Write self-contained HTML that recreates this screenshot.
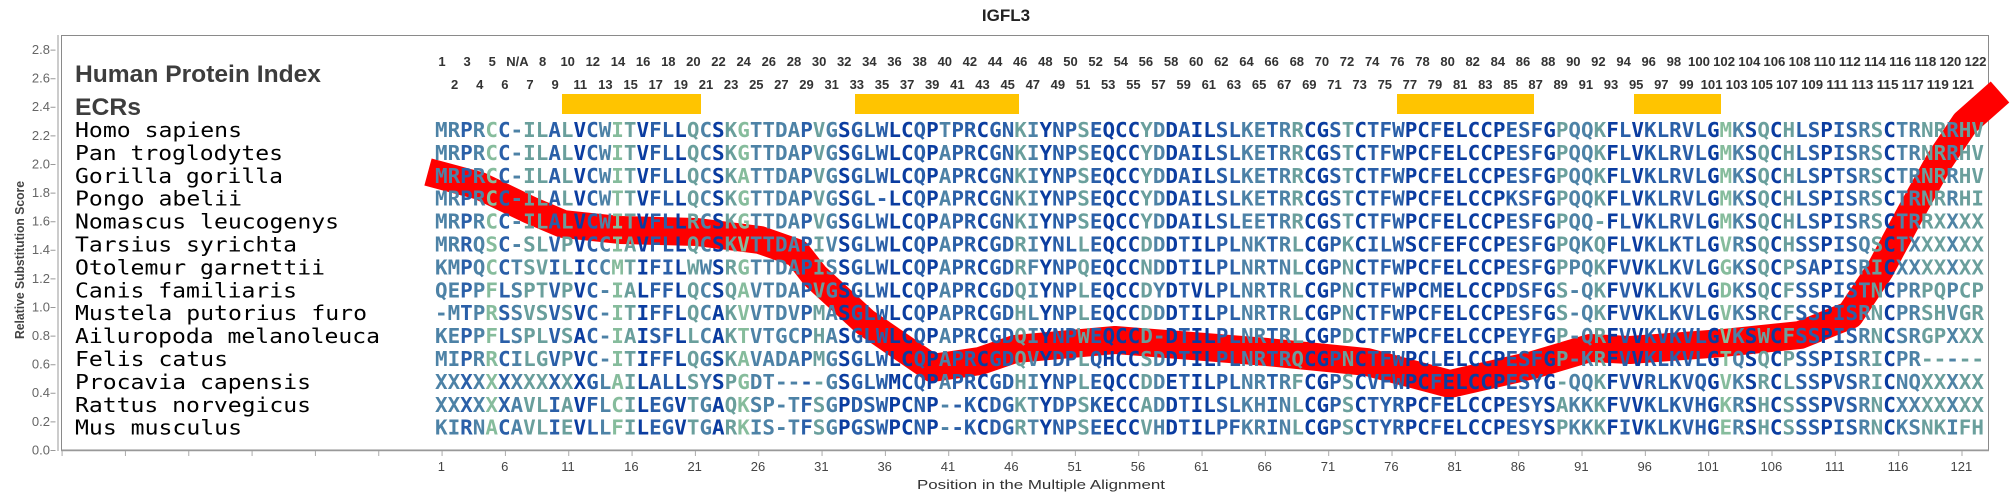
<!DOCTYPE html>
<html><head><meta charset="utf-8"><style>
html,body{margin:0;padding:0;background:#fff;width:2015px;height:500px;overflow:hidden}
svg{display:block}
.a{stop-color:#86bc9c}.b{stop-color:#6a9f9c}.c{stop-color:#4d82a6}.d{stop-color:#2a5fa8}.e{stop-color:#0a3ca0}
.yl{font:13px "Liberation Sans",sans-serif;fill:#666;text-anchor:end}
.xl{font:13px "Liberation Sans",sans-serif;fill:#444;text-anchor:middle}
.hn{font:bold 13px "Liberation Sans",sans-serif;fill:#333;text-anchor:middle}
.sp{font:20px "DejaVu Sans Mono",monospace;fill:#000}
.sq{font:bold 20px "DejaVu Sans Mono",monospace;fill:url(#g)}
.big{font:bold 24px "Liberation Sans",sans-serif;fill:#3d3d3d}
</style></head><body>
<svg width="2015" height="500" viewBox="0 0 2015 500" xmlns="http://www.w3.org/2000/svg">
<defs>
<linearGradient id="g" gradientUnits="userSpaceOnUse" x1="434.7" y1="0" x2="2954.7" y2="0">
<stop offset="0%" class="c"/><stop offset="1%" class="c"/>
<stop offset="1%" class="d"/><stop offset="1.5%" class="d"/>
<stop offset="1.5%" class="c"/><stop offset="2%" class="c"/>
<stop offset="2%" class="a"/><stop offset="2.5%" class="a"/>
<stop offset="2.5%" class="d"/><stop offset="3%" class="d"/>
<stop offset="3%" class="c"/><stop offset="3.5%" class="c"/>
<stop offset="3.5%" class="b"/><stop offset="4.5%" class="b"/>
<stop offset="4.5%" class="d"/><stop offset="5%" class="d"/>
<stop offset="5%" class="b"/><stop offset="5.5%" class="b"/>
<stop offset="5.5%" class="e"/><stop offset="6%" class="e"/>
<stop offset="6%" class="d"/><stop offset="6.5%" class="d"/>
<stop offset="6.5%" class="c"/><stop offset="7%" class="c"/>
<stop offset="7%" class="a"/><stop offset="7.5%" class="a"/>
<stop offset="7.5%" class="b"/><stop offset="8%" class="b"/>
<stop offset="8%" class="e"/><stop offset="8.5%" class="e"/>
<stop offset="8.5%" class="d"/><stop offset="9.5%" class="d"/>
<stop offset="9.5%" class="e"/><stop offset="10%" class="e"/>
<stop offset="10%" class="b"/><stop offset="10.5%" class="b"/>
<stop offset="10.5%" class="c"/><stop offset="11%" class="c"/>
<stop offset="11%" class="e"/><stop offset="11.5%" class="e"/>
<stop offset="11.5%" class="b"/><stop offset="12%" class="b"/>
<stop offset="12%" class="a"/><stop offset="12.5%" class="a"/>
<stop offset="12.5%" class="c"/><stop offset="14.5%" class="c"/>
<stop offset="14.5%" class="d"/><stop offset="15%" class="d"/>
<stop offset="15%" class="b"/><stop offset="15.5%" class="b"/>
<stop offset="15.5%" class="c"/><stop offset="16%" class="c"/>
<stop offset="16%" class="e"/><stop offset="16.5%" class="e"/>
<stop offset="16.5%" class="d"/><stop offset="18%" class="d"/>
<stop offset="18%" class="e"/><stop offset="19%" class="e"/>
<stop offset="19%" class="d"/><stop offset="19.5%" class="d"/>
<stop offset="19.5%" class="e"/><stop offset="20%" class="e"/>
<stop offset="20%" class="c"/><stop offset="20.5%" class="c"/>
<stop offset="20.5%" class="d"/><stop offset="21.5%" class="d"/>
<stop offset="21.5%" class="e"/><stop offset="22%" class="e"/>
<stop offset="22%" class="d"/><stop offset="23%" class="d"/>
<stop offset="23%" class="b"/><stop offset="23.5%" class="b"/>
<stop offset="23.5%" class="c"/><stop offset="24%" class="c"/>
<stop offset="24%" class="e"/><stop offset="24.5%" class="e"/>
<stop offset="24.5%" class="d"/><stop offset="25.5%" class="d"/>
<stop offset="25.5%" class="b"/><stop offset="26%" class="b"/>
<stop offset="26%" class="d"/><stop offset="26.5%" class="d"/>
<stop offset="26.5%" class="e"/><stop offset="28%" class="e"/>
<stop offset="28%" class="b"/><stop offset="28.5%" class="b"/>
<stop offset="28.5%" class="c"/><stop offset="29%" class="c"/>
<stop offset="29%" class="e"/><stop offset="29.5%" class="e"/>
<stop offset="29.5%" class="d"/><stop offset="30%" class="d"/>
<stop offset="30%" class="e"/><stop offset="31%" class="e"/>
<stop offset="31%" class="d"/><stop offset="32%" class="d"/>
<stop offset="32%" class="c"/><stop offset="33%" class="c"/>
<stop offset="33%" class="d"/><stop offset="33.5%" class="d"/>
<stop offset="33.5%" class="c"/><stop offset="34%" class="c"/>
<stop offset="34%" class="b"/><stop offset="34.5%" class="b"/>
<stop offset="34.5%" class="e"/><stop offset="35.5%" class="e"/>
<stop offset="35.5%" class="d"/><stop offset="36%" class="d"/>
<stop offset="36%" class="b"/><stop offset="36.5%" class="b"/>
<stop offset="36.5%" class="e"/><stop offset="37%" class="e"/>
<stop offset="37%" class="d"/><stop offset="38.5%" class="d"/>
<stop offset="38.5%" class="e"/><stop offset="39.5%" class="e"/>
<stop offset="39.5%" class="d"/><stop offset="40%" class="d"/>
<stop offset="40%" class="e"/><stop offset="42.5%" class="e"/>
<stop offset="42.5%" class="d"/><stop offset="44%" class="d"/>
<stop offset="44%" class="e"/><stop offset="44.5%" class="e"/>
<stop offset="44.5%" class="b"/><stop offset="45%" class="b"/>
<stop offset="45%" class="c"/><stop offset="46%" class="c"/>
<stop offset="46%" class="b"/><stop offset="46.5%" class="b"/>
<stop offset="46.5%" class="e"/><stop offset="47%" class="e"/>
<stop offset="47%" class="d"/><stop offset="47.5%" class="d"/>
<stop offset="47.5%" class="e"/><stop offset="48%" class="e"/>
<stop offset="48%" class="d"/><stop offset="50.5%" class="d"/>
<stop offset="50.5%" class="e"/><stop offset="51%" class="e"/>
<stop offset="51%" class="a"/><stop offset="51.5%" class="a"/>
<stop offset="51.5%" class="c"/><stop offset="52%" class="c"/>
<stop offset="52%" class="e"/><stop offset="52.5%" class="e"/>
<stop offset="52.5%" class="b"/><stop offset="53%" class="b"/>
<stop offset="53%" class="e"/><stop offset="53.5%" class="e"/>
<stop offset="53.5%" class="b"/><stop offset="54%" class="b"/>
<stop offset="54%" class="d"/><stop offset="55%" class="d"/>
<stop offset="55%" class="e"/><stop offset="55.5%" class="e"/>
<stop offset="55.5%" class="d"/><stop offset="56.5%" class="d"/>
<stop offset="56.5%" class="c"/><stop offset="57%" class="c"/>
<stop offset="57%" class="b"/><stop offset="57.5%" class="b"/>
<stop offset="57.5%" class="e"/><stop offset="58%" class="e"/>
<stop offset="58%" class="c"/><stop offset="59%" class="c"/>
<stop offset="59%" class="b"/><stop offset="60%" class="b"/>
<stop offset="60%" class="c"/><stop offset="60.5%" class="c"/>
<stop offset="60.5%" class="b"/><stop offset="100%" class="b"/>
</linearGradient>
</defs>

<text x="1006" y="21" text-anchor="middle" style="font:bold 17px 'Liberation Sans',sans-serif;fill:#222">IGFL3</text>

<rect x="61.5" y="35.5" width="1927" height="414.5" fill="none" stroke="#8a8a8a" stroke-width="1"/>
<line x1="58" y1="35" x2="58" y2="451" stroke="#bbb" stroke-width="1.5"/>
<line x1="61" y1="450.5" x2="1989" y2="450.5" stroke="#999" stroke-width="1.5"/>
<line x1="53" y1="49.6" x2="53" y2="451" stroke="#999" stroke-width="5" stroke-dasharray="1 27.6"/>
<line x1="61.6" y1="453.5" x2="1990" y2="453.5" stroke="#aaa" stroke-width="5" stroke-dasharray="1 62.33"/>

<g class="yl">
<text x="50" y="54">2.8</text><text x="50" y="82.6">2.6</text><text x="50" y="111.2">2.4</text><text x="50" y="139.8">2.2</text><text x="50" y="168.4">2.0</text><text x="50" y="197">1.8</text><text x="50" y="225.6">1.6</text><text x="50" y="254.2">1.4</text><text x="50" y="282.8">1.2</text><text x="50" y="311.4">1.0</text><text x="50" y="340">0.8</text><text x="50" y="368.6">0.6</text><text x="50" y="397.2">0.4</text><text x="50" y="425.8">0.2</text><text x="50" y="454.4">0.0</text>
</g>
<text transform="translate(24,260) rotate(-90)" text-anchor="middle" textLength="158" lengthAdjust="spacingAndGlyphs" style="font:bold 13px 'Liberation Sans',sans-serif;fill:#444">Relative Substitution Score</text>

<g class="xl">
<text x="441.4" y="471">1</text><text x="504.7" y="471">6</text><text x="568" y="471">11</text><text x="631.4" y="471">16</text><text x="694.7" y="471">21</text><text x="758" y="471">26</text><text x="821.4" y="471">31</text><text x="884.7" y="471">36</text><text x="948" y="471">41</text><text x="1011.4" y="471">46</text><text x="1074.7" y="471">51</text><text x="1138" y="471">56</text><text x="1201.4" y="471">61</text><text x="1264.7" y="471">66</text><text x="1328" y="471">71</text><text x="1391.4" y="471">76</text><text x="1454.7" y="471">81</text><text x="1518" y="471">86</text><text x="1581.4" y="471">91</text><text x="1644.7" y="471">96</text><text x="1708" y="471">101</text><text x="1771.4" y="471">106</text><text x="1834.7" y="471">111</text><text x="1898" y="471">116</text><text x="1961.4" y="471">121</text>
</g>
<text x="1041" y="489" text-anchor="middle" textLength="248" lengthAdjust="spacingAndGlyphs" style="font:13px 'Liberation Sans',sans-serif;fill:#333">Position in the Multiple Alignment</text>

<text class="big" x="75" y="82" textLength="246" lengthAdjust="spacingAndGlyphs">Human Protein Index</text>
<text class="big" x="75" y="115" textLength="66" lengthAdjust="spacingAndGlyphs">ECRs</text>

<g class="hn">
<text x="442" y="66">1</text><text x="454.6" y="89">2</text><text x="467.1" y="66">3</text><text x="479.7" y="89">4</text><text x="492.3" y="66">5</text><text x="504.9" y="89">6</text><text x="517.4" y="66">N/A</text><text x="530" y="89">7</text><text x="542.6" y="66">8</text><text x="555.1" y="89">9</text>
<text x="567.7" y="66">10</text><text x="580.3" y="89">11</text><text x="592.8" y="66">12</text><text x="605.4" y="89">13</text><text x="618" y="66">14</text><text x="630.6" y="89">15</text><text x="643.1" y="66">16</text><text x="655.7" y="89">17</text><text x="668.3" y="66">18</text><text x="680.8" y="89">19</text>
<text x="693.4" y="66">20</text><text x="706" y="89">21</text><text x="718.5" y="66">22</text><text x="731.1" y="89">23</text><text x="743.7" y="66">24</text><text x="756.3" y="89">25</text><text x="768.8" y="66">26</text><text x="781.4" y="89">27</text><text x="794" y="66">28</text><text x="806.5" y="89">29</text>
<text x="819.1" y="66">30</text><text x="831.7" y="89">31</text><text x="844.2" y="66">32</text><text x="856.8" y="89">33</text><text x="869.4" y="66">34</text><text x="882" y="89">35</text><text x="894.5" y="66">36</text><text x="907.1" y="89">37</text><text x="919.7" y="66">38</text><text x="932.2" y="89">39</text>
<text x="944.8" y="66">40</text><text x="957.4" y="89">41</text><text x="969.9" y="66">42</text><text x="982.5" y="89">43</text><text x="995.1" y="66">44</text><text x="1007.7" y="89">45</text><text x="1020.2" y="66">46</text><text x="1032.8" y="89">47</text><text x="1045.4" y="66">48</text><text x="1057.9" y="89">49</text>
<text x="1070.5" y="66">50</text><text x="1083.1" y="89">51</text><text x="1095.6" y="66">52</text><text x="1108.2" y="89">53</text><text x="1120.8" y="66">54</text><text x="1133.4" y="89">55</text><text x="1145.9" y="66">56</text><text x="1158.5" y="89">57</text><text x="1171.1" y="66">58</text><text x="1183.6" y="89">59</text>
<text x="1196.2" y="66">60</text><text x="1208.8" y="89">61</text><text x="1221.3" y="66">62</text><text x="1233.9" y="89">63</text><text x="1246.5" y="66">64</text><text x="1259.1" y="89">65</text><text x="1271.6" y="66">66</text><text x="1284.2" y="89">67</text><text x="1296.8" y="66">68</text><text x="1309.3" y="89">69</text>
<text x="1321.9" y="66">70</text><text x="1334.5" y="89">71</text><text x="1347" y="66">72</text><text x="1359.6" y="89">73</text><text x="1372.2" y="66">74</text><text x="1384.8" y="89">75</text><text x="1397.3" y="66">76</text><text x="1409.9" y="89">77</text><text x="1422.5" y="66">78</text><text x="1435" y="89">79</text>
<text x="1447.6" y="66">80</text><text x="1460.2" y="89">81</text><text x="1472.7" y="66">82</text><text x="1485.3" y="89">83</text><text x="1497.9" y="66">84</text><text x="1510.5" y="89">85</text><text x="1523" y="66">86</text><text x="1535.6" y="89">87</text><text x="1548.2" y="66">88</text><text x="1560.7" y="89">89</text>
<text x="1573.3" y="66">90</text><text x="1585.9" y="89">91</text><text x="1598.4" y="66">92</text><text x="1611" y="89">93</text><text x="1623.6" y="66">94</text><text x="1636.2" y="89">95</text><text x="1648.7" y="66">96</text><text x="1661.3" y="89">97</text><text x="1673.9" y="66">98</text><text x="1686.4" y="89">99</text>
<text x="1699" y="66" textLength="22" lengthAdjust="spacingAndGlyphs">100</text><text x="1711.6" y="89" textLength="22" lengthAdjust="spacingAndGlyphs">101</text><text x="1724.1" y="66" textLength="22" lengthAdjust="spacingAndGlyphs">102</text><text x="1736.7" y="89" textLength="22" lengthAdjust="spacingAndGlyphs">103</text><text x="1749.3" y="66" textLength="22" lengthAdjust="spacingAndGlyphs">104</text><text x="1761.9" y="89" textLength="22" lengthAdjust="spacingAndGlyphs">105</text><text x="1774.4" y="66" textLength="22" lengthAdjust="spacingAndGlyphs">106</text><text x="1787" y="89" textLength="22" lengthAdjust="spacingAndGlyphs">107</text><text x="1799.6" y="66" textLength="22" lengthAdjust="spacingAndGlyphs">108</text><text x="1812.1" y="89" textLength="22" lengthAdjust="spacingAndGlyphs">109</text>
<text x="1824.7" y="66" textLength="22" lengthAdjust="spacingAndGlyphs">110</text><text x="1837.3" y="89" textLength="22" lengthAdjust="spacingAndGlyphs">111</text><text x="1849.8" y="66" textLength="22" lengthAdjust="spacingAndGlyphs">112</text><text x="1862.4" y="89" textLength="22" lengthAdjust="spacingAndGlyphs">113</text><text x="1875" y="66" textLength="22" lengthAdjust="spacingAndGlyphs">114</text><text x="1887.6" y="89" textLength="22" lengthAdjust="spacingAndGlyphs">115</text><text x="1900.1" y="66" textLength="22" lengthAdjust="spacingAndGlyphs">116</text><text x="1912.7" y="89" textLength="22" lengthAdjust="spacingAndGlyphs">117</text><text x="1925.3" y="66" textLength="22" lengthAdjust="spacingAndGlyphs">118</text><text x="1937.8" y="89" textLength="22" lengthAdjust="spacingAndGlyphs">119</text>
<text x="1950.4" y="66" textLength="22" lengthAdjust="spacingAndGlyphs">120</text><text x="1963" y="89" textLength="22" lengthAdjust="spacingAndGlyphs">121</text><text x="1975.5" y="66" textLength="22" lengthAdjust="spacingAndGlyphs">122</text>
</g>

<g fill="#ffc400">
<rect x="562" y="94" width="139" height="20"/>
<rect x="855" y="94" width="164" height="20"/>
<rect x="1397" y="94" width="137" height="20"/>
<rect x="1634" y="94" width="87" height="20"/>
</g>

<polyline fill="none" stroke="#ff0000" stroke-width="28" stroke-linejoin="round" points="428,172 480,186 530,210 563,224 620,230 697,232 760,240 797,253 815,276 865,322 932,368 980,361 1015,349 1115,340 1205,347 1267,352 1367,362 1450,384 1533,365 1590,348 1630,350 1723,343 1800,335 1850,315 1880,270 1910,214 1940,160 1965,123 2000,92"/>

<g class="sp">
<text x="75" y="137" textLength="167" lengthAdjust="spacingAndGlyphs">Homo sapiens</text>
<text x="75" y="159.9" textLength="208" lengthAdjust="spacingAndGlyphs">Pan troglodytes</text>
<text x="75" y="182.8" textLength="208" lengthAdjust="spacingAndGlyphs">Gorilla gorilla</text>
<text x="75" y="205.7" textLength="167" lengthAdjust="spacingAndGlyphs">Pongo abelii</text>
<text x="75" y="228.6" textLength="264" lengthAdjust="spacingAndGlyphs">Nomascus leucogenys</text>
<text x="75" y="251.5" textLength="222" lengthAdjust="spacingAndGlyphs">Tarsius syrichta</text>
<text x="75" y="274.4" textLength="250" lengthAdjust="spacingAndGlyphs">Otolemur garnettii</text>
<text x="75" y="297.3" textLength="222" lengthAdjust="spacingAndGlyphs">Canis familiaris</text>
<text x="75" y="320.2" textLength="292" lengthAdjust="spacingAndGlyphs">Mustela putorius furo</text>
<text x="75" y="343.1" textLength="305" lengthAdjust="spacingAndGlyphs">Ailuropoda melanoleuca</text>
<text x="75" y="366" textLength="153" lengthAdjust="spacingAndGlyphs">Felis catus</text>
<text x="75" y="388.9" textLength="236" lengthAdjust="spacingAndGlyphs">Procavia capensis</text>
<text x="75" y="411.8" textLength="236" lengthAdjust="spacingAndGlyphs">Rattus norvegicus</text>
<text x="75" y="434.7" textLength="167" lengthAdjust="spacingAndGlyphs">Mus musculus</text>
</g>

<g class="sq">
<text x="435" y="137" textLength="1549" lengthAdjust="spacingAndGlyphs">MRPRCC-ILALVCWITVFLLQCSKGTTDAPVGSGLWLCQPTPRCGNKIYNPSEQCCYDDAILSLKETRRCGSTCTFWPCFELCCPESFGPQQKFLVKLRVLGMKSQCHLSPISRSCTRNRRHV</text>
<text x="435" y="159.9" textLength="1549" lengthAdjust="spacingAndGlyphs">MRPRCC-ILALVCWITVFLLQCSKGTTDAPVGSGLWLCQPAPRCGNKIYNPSEQCCYDDAILSLKETRRCGSTCTFWPCFELCCPESFGPQQKFLVKLRVLGMKSQCHLSPISRSCTRNRRHV</text>
<text x="435" y="182.8" textLength="1549" lengthAdjust="spacingAndGlyphs">MRPRCC-ILALVCWITVFLLQCSKATTDAPVGSGLWLCQPAPRCGNKIYNPSEQCCYDDAILSLKETRRCGSTCTFWPCFELCCPESFGPQQKFLVKLRVLGMKSQCHLSPTSRSCTRNRRHV</text>
<text x="435" y="205.7" textLength="1549" lengthAdjust="spacingAndGlyphs">MRPRCC-ILALVCWTTVFLLQCSKGTTDAPVGSGL-LCQPAPRCGNKIYNPSEQCCYDDAILSLKETRRCGSTCTFWPCFELCCPKSFGPQQKFLVKLRVLGMKSQCHLSPISRSCTRNRRHI</text>
<text x="435" y="228.6" textLength="1549" lengthAdjust="spacingAndGlyphs">MRPRCC-ILALVCWITVFLLRCSKGTTDAPVGSGLWLCQPAPRCGNKIYNPSEQCCYDDAILSLEETRRCGSTCTFWPCFELCCPESFGPQQ-FLVKLRVLGMKSQCHLSPISRSCTRRXXXX</text>
<text x="435" y="251.5" textLength="1549" lengthAdjust="spacingAndGlyphs">MRRQSC-SLVPVCCIAVFLLQCSKVTTDAPIVSGLWLCQPAPRCGDRIYNLLEQCCDDDTILPLNKTRLCGPKCILWSCFEFCCPESFGPQKQFLVKLKTLGVRSQCHSSPISQSCTXXXXXX</text>
<text x="435" y="274.4" textLength="1549" lengthAdjust="spacingAndGlyphs">KMPQCCTSVILICCMTIFILWWSRGTTDAPISSGLWLCQPAPRCGDRFYNPQEQCCNDDTILPLNRTNLCGPNCTFWPCFELCCPESFGPPQKFVVKLKVLGGKSQCPSAPISRICXXXXXXX</text>
<text x="435" y="297.3" textLength="1549" lengthAdjust="spacingAndGlyphs">QEPPFLSPTVPVC-IALFFLQCSQAVTDAPVGSGLWLCQPAPRCGDQIYNPLEQCCDYDTVLPLNRTRLCGPNCTFWPCMELCCPDSFGS-QKFVVKLKVLGDKSQCFSSPISTNCPRPQPCP</text>
<text x="435" y="320.2" textLength="1549" lengthAdjust="spacingAndGlyphs">-MTPRSSVSVSVC-ITIFFLQCAKVVTDVPMASGLWLCQPAPRCGDHLYNPLEQCCDDDTILPLNRTRLCGPNCTFWPCFELCCPESFGS-QKFVVKLKVLGVKSRCFSSPISRNCPRSHVGR</text>
<text x="435" y="343.1" textLength="1549" lengthAdjust="spacingAndGlyphs">KEPPFLSPLVSAC-IAISFLLCAKTVTGCPHASGLWLCQPAPRCGDQIYNPWEQCCD-DTILPLNRTRLCGPDCTFWPCFELCCPEYFGP-QRFVVKVKVLGVKSWCFSSPISRNCSRGPXXX</text>
<text x="435" y="366" textLength="1549" lengthAdjust="spacingAndGlyphs">MIPRRCILGVPVC-ITIFFLQGSKAVADAPMGSGLWLCQPAPRCGDQVYDPLQHCCSDDTILPLNRTRQCGPNCTFWPCLELCCPESFGP-KRFVVKLKVLGTQSQCPSSPISRICPR-----</text>
<text x="435" y="388.9" textLength="1549" lengthAdjust="spacingAndGlyphs">XXXXXXXXXXXXGLAILALLSYSPGDT----GSGLWMCQPAPRCGDHIYNPLEQCCDDETILPLNRTRFCGPSCVFWPCFELCCPESYG-QQKFVVRLKVQGVKSRCLSSPVSRICNQXXXXX</text>
<text x="435" y="411.8" textLength="1549" lengthAdjust="spacingAndGlyphs">XXXXXXAVLIAVFLCILEGVTGAQKSP-TFSGPDSWPCNP--KCDGKTYDPSKECCADDTILSLKHINLCGPSCTYRPCFELCCPESYSAKKKFVVKLKVHGKRSHCSSSPVSRNCXXXXXXX</text>
<text x="435" y="434.7" textLength="1549" lengthAdjust="spacingAndGlyphs">KIRNACAVLIEVLLFILEGVTGARKIS-TFSGPGSWPCNP--KCDGRTYNPSEECCVHDTILPFKRINLCGPSCTYRPCFELCCPESYSPKKKFIVKLKVHGERSHCSSSPISRNCKSNKIFH</text>
</g>
</svg>
</body></html>
